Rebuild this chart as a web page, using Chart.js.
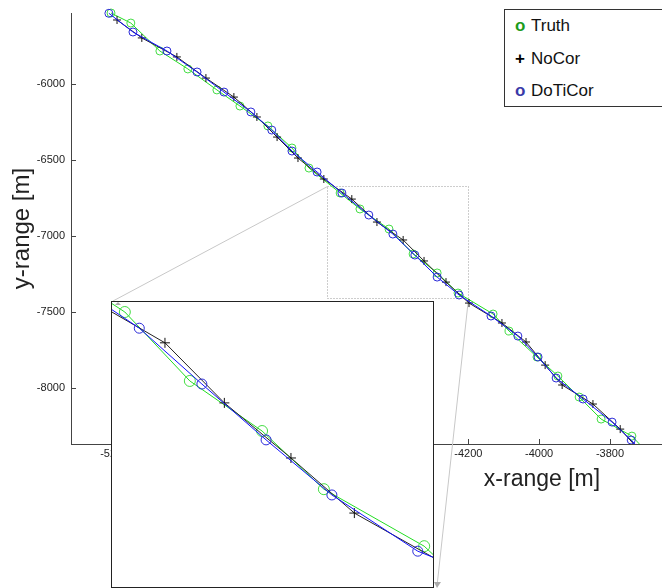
<!DOCTYPE html>
<html>
<head>
<meta charset="utf-8">
<script src="https://cdn.jsdelivr.net/npm/chart.js@4.4.1/dist/chart.umd.min.js"></script>
<style>
  body { margin: 0; background: #fff; }
  #wrap { position: relative; width: 662px; height: 588px; overflow: hidden; font-family: "Liberation Sans", Arial, sans-serif; }
  #inset { position: absolute; left: 111px; top: 301px; width: 321px; height: 285px; border: 1px solid #222; background: #fff; }
  #legend { position: absolute; left: 504px; top: 9px; width: 190px; height: 96px; border: 1px solid #333; background: #fff; font-size: 17px; color: #111; }
  #legend div { position: absolute; left: 10px; height: 32px; line-height: 32px; white-space: nowrap; }
  #legend b { display: inline-block; width: 16px; }
</style>
</head>
<body>
<div id="wrap">
  <canvas id="mainCanvas" width="662" height="588"></canvas>
  <div id="inset"><canvas id="insetCanvas" width="321" height="285"></canvas></div>
  <div id="legend"></div>
</div>
<script>
// main view, values in metres
const truthX = [-5209, -5153, -5071, -4992, -4910, -4845, -4766, -4698, -4650, -4562, -4506, -4424, -4356, -4288, -4229, -4130, -4085, -4006, -3947, -3887, -3825, -3738, -3687];
const truthY = [-5533, -5599, -5783, -5901, -6039, -6145, -6276, -6421, -6553, -6717, -6822, -6954, -7118, -7243, -7375, -7513, -7625, -7796, -7921, -8059, -8204, -8316, -8441];
const noCorX = [-5192, -5122, -5023, -4941, -4862, -4797, -4740, -4681, -4608, -4529, -4458, -4384, -4325, -4263, -4198, -4105, -4037, -3983, -3935, -3848, -3771, -3687];
const noCorY = [-5579, -5697, -5822, -5961, -6086, -6217, -6349, -6487, -6625, -6757, -6908, -7026, -7164, -7303, -7441, -7572, -7697, -7849, -7980, -8105, -8270, -8487];
const doTiCorX = [-5215, -5147, -5051, -4966, -4890, -4814, -4755, -4698, -4627, -4557, -4481, -4413, -4351, -4288, -4226, -4136, -4060, -4003, -3952, -3876, -3794, -3740, -3701];
const doTiCorY = [-5535, -5658, -5783, -5921, -6053, -6184, -6303, -6441, -6579, -6717, -6862, -6987, -7125, -7270, -7388, -7526, -7658, -7796, -7934, -8072, -8224, -8342, -8441];

// zoomed view (inset)
const zoomTruthX = [-4615, -4584, -4503, -4413, -4336, -4211, -4166];
const zoomTruthY = [-6654, -6696, -6875, -7005, -7156, -7304, -7392];
const zoomNoCorX = [-4615, -4534, -4460, -4377, -4298, -4154];
const zoomNoCorY = [-6678, -6776, -6932, -7075, -7218, -7387];
const zoomDoTiCorX = [-4627, -4566, -4488, -4408, -4326, -4219, -4154];
const zoomDoTiCorY = [-6652, -6738, -6883, -7028, -7171, -7317, -7371];
const zoomXRange = [-4600, -4200];
const zoomYRange = [-7410, -6670];

const xTicks = [-5200, -5000, -4800, -4600, -4400, -4200, -4000, -3800];
const yTicks = [-8000, -7500, -7000, -6500, -6000];

Chart.defaults.font.family = '"Liberation Sans", Arial, sans-serif';
Chart.defaults.color = '#222';

const pts = (xs, ys) => xs.map((v, i) => ({x: v, y: ys[i]}));

const series = [
  {label: 'Truth', mark: 'o', markColor: '#1c9c1c', line: '#22dd22', point: '#44dd44', style: 'circle', order: 3},
  {label: 'NoCor', mark: '+', markColor: '#000', line: '#222', point: '#111', style: 'cross', order: 2},
  {label: 'DoTiCor', mark: 'o', markColor: '#3a3aa8', line: '#1010ff', point: '#2a2ad8', style: 'circle', order: 1}
];

function makeSets(data, big) {
  return series.map((s, i) => ({
    label: s.label,
    data: data[i],
    showLine: true,
    borderColor: s.line,
    borderWidth: 1,
    pointStyle: s.style,
    pointRadius: big ? (s.style === 'cross' ? 5 : (i == 0 ? 5.5 : 5)) : 4,
    pointBorderColor: s.point,
    pointBackgroundColor: 'rgba(0,0,0,0)',
    pointBorderWidth: 1,
    order: s.order,
    clip: big ? 0 : {left: 8, top: 8, right: 0, bottom: 0}
  }));
}

const axisExtras = {
  id: 'axisExtras',
  beforeDatasetsDraw(chart) {
    const {ctx, chartArea: a} = chart;
    const x = chart.scales.x, y = chart.scales.y;
    ctx.save();
    ctx.strokeStyle = '#444';
    ctx.lineWidth = 1;
    ctx.beginPath();
    x.ticks.forEach(t => {
      const px = Math.round(x.getPixelForValue(t.value)) + 0.5;
      ctx.moveTo(px, a.bottom); ctx.lineTo(px, a.bottom - 5);
    });
    y.ticks.forEach(t => {
      const py = Math.round(y.getPixelForValue(t.value)) + 0.5;
      ctx.moveTo(a.left, py); ctx.lineTo(a.left + 5, py);
    });
    ctx.stroke();

    // zoom rectangle
    const rx0 = Math.round(x.getPixelForValue(zoomXRange[0])) + 0.5;
    const rx1 = Math.round(x.getPixelForValue(zoomXRange[1])) + 0.5;
    const ry0 = Math.round(y.getPixelForValue(zoomYRange[1])) + 0.5;
    const ry1 = Math.round(y.getPixelForValue(zoomYRange[0])) + 0.5;
    ctx.strokeStyle = '#9a9a9a';
    ctx.setLineDash([1, 2]);
    ctx.strokeRect(rx0, ry0, rx1 - rx0, ry1 - ry0);

    // connectors to the inset
    ctx.setLineDash([]);
    ctx.strokeStyle = '#c8c8c8';
    ctx.beginPath();
    ctx.moveTo(rx0, ry0); ctx.lineTo(113, 301);
    ctx.moveTo(rx1, ry1); ctx.lineTo(437, 586);
    ctx.stroke();
    ctx.fillStyle = '#aaa';
    ctx.beginPath();
    ctx.moveTo(434, 582); ctx.lineTo(441, 582); ctx.lineTo(437, 588);
    ctx.fill();

    ctx.fillStyle = '#222';
    ctx.font = '23px "Liberation Sans", Arial, sans-serif';
    ctx.textAlign = 'center';
    ctx.textBaseline = 'middle';
    ctx.fillText('x-range [m]', 542, 480);
    ctx.restore();
  }
};

const mainChart = new Chart(document.getElementById('mainCanvas'), {
  type: 'scatter',
  data: {datasets: makeSets([pts(truthX, truthY), pts(noCorX, noCorY), pts(doTiCorX, doTiCorY)], false)},
  options: {
    responsive: false,
    animation: false,
    layout: {autoPadding: false, padding: {top: 13, right: 0, bottom: 0, left: 0}},
    plugins: {legend: {display: false}, tooltip: {enabled: false}},
    scales: {
      x: {
        type: 'linear', min: -5322, max: -3653,
        afterBuildTicks: s => { s.ticks = xTicks.map(v => ({value: v})); },
        afterFit: s => { s.height = 144; },
        grid: {display: false, drawTicks: false},
        border: {display: true, color: '#444', width: 1},
        ticks: {autoSkip: false, maxRotation: 0, padding: 3, font: {size: 11}, color: '#222',
                callback: v => String(v)}
      },
      y: {
        type: 'linear', min: -8368, max: -5533,
        afterBuildTicks: s => { s.ticks = yTicks.map(v => ({value: v})); },
        afterFit: s => { s.width = 71; },
        grid: {display: false, drawTicks: false},
        border: {display: true, color: '#444', width: 1},
        ticks: {padding: 6, font: {size: 11}, color: '#222', callback: v => String(v)},
        title: {display: true, text: 'y-range [m]', font: {size: 24}, color: '#222', padding: {top: 8, bottom: 0}}
      }
    }
  },
  plugins: [axisExtras]
});

const insetMark = {
  id: 'insetMark',
  afterDraw(chart) {
    const ctx = chart.ctx;
    ctx.save();
    ctx.fillStyle = '#aaa';
    ctx.beginPath();
    ctx.moveTo(3, 3); ctx.lineTo(9, 3); ctx.lineTo(6, 0);
    ctx.fill();
    ctx.restore();
  }
};

const insetChart = new Chart(document.getElementById('insetCanvas'), {
  type: 'scatter',
  data: {datasets: makeSets([pts(zoomTruthX, zoomTruthY), pts(zoomNoCorX, zoomNoCorY), pts(zoomDoTiCorX, zoomDoTiCorY)], true)},
  options: {
    responsive: false,
    animation: false,
    layout: {autoPadding: false, padding: 0},
    plugins: {legend: {display: false}, tooltip: {enabled: false}},
    scales: {
      x: {type: 'linear', display: false, min: zoomXRange[0], max: zoomXRange[1]},
      y: {type: 'linear', display: false, min: zoomYRange[0], max: zoomYRange[1]}
    }
  },
  plugins: [insetMark]
});

// legend
const legend = document.getElementById('legend');
series.forEach((s, i) => {
  const row = document.createElement('div');
  row.style.top = (i * 32.5) + 'px';
  row.innerHTML = '<b style="color:' + s.markColor + '">' + s.mark + '</b>' + s.label;
  legend.appendChild(row);
});
</script>
</body>
</html>
